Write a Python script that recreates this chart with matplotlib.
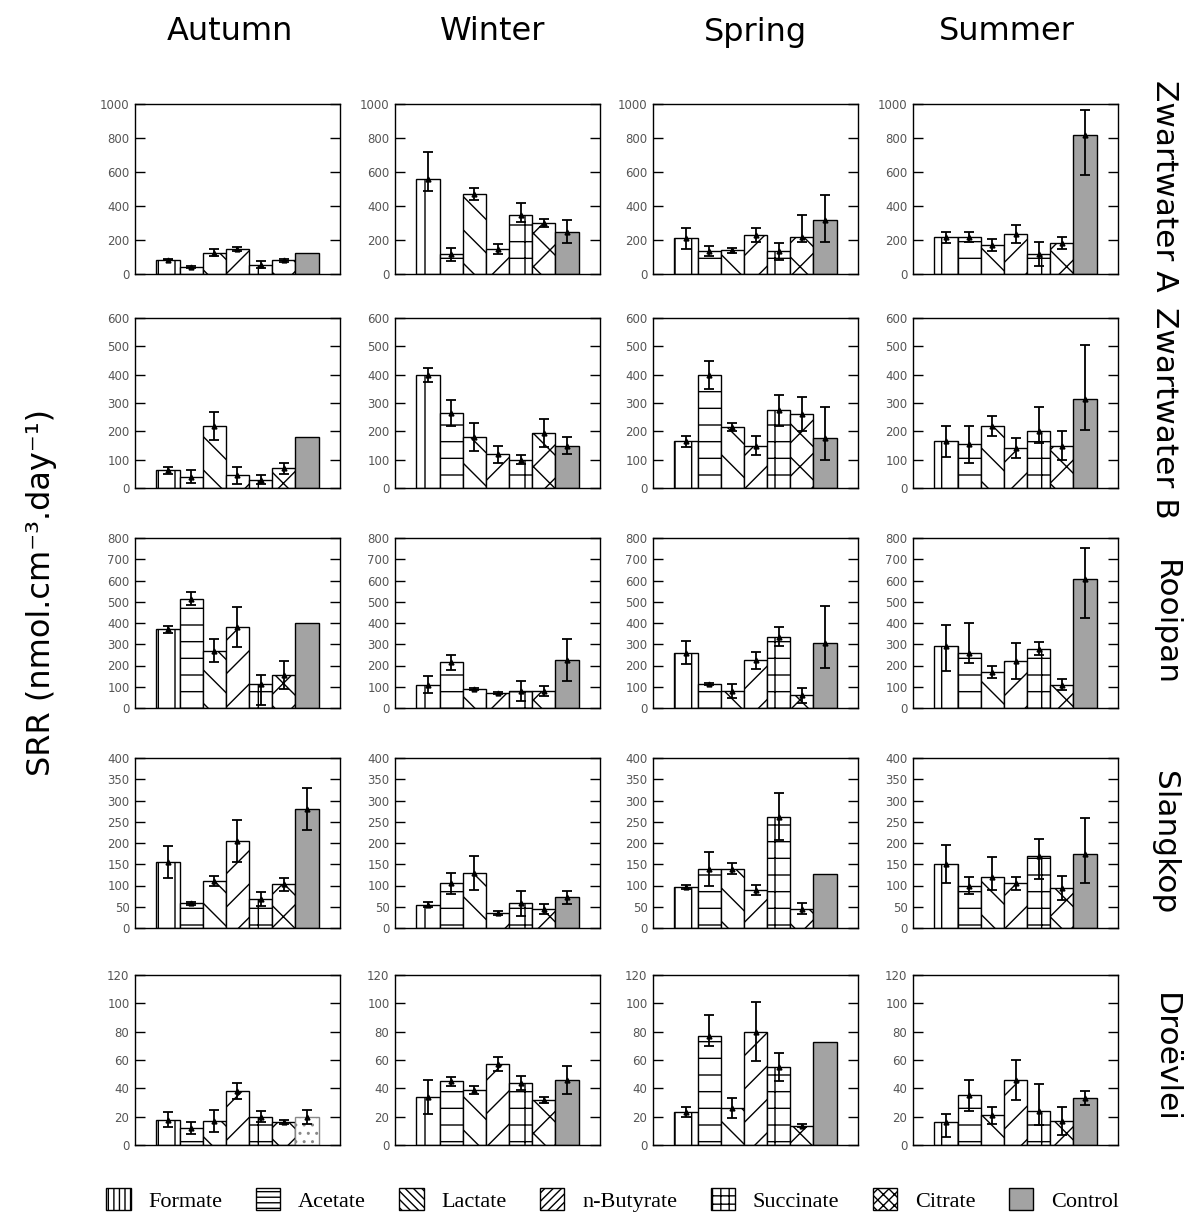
import matplotlib
matplotlib.use("Agg")
import matplotlib.pyplot as plt
from matplotlib.patches import Patch
import numpy as np

plt.rcParams["font.family"] = ["DejaVu Sans"]
plt.rcParams["hatch.linewidth"] = 1.0

seasons = ["Autumn", "Winter", "Spring", "Summer"]
sites = ["Zwartwater A", "Zwartwater B", "Rooipan", "Slangkop", "Droëvlei"]
substrates = ["Formate", "Acetate", "Lactate", "n-Butyrate", "Succinate", "Citrate", "Control"]

# y-axis range and tick step for each site
site_ymax = [1000, 600, 800, 400, 120]
site_ystep = [200, 100, 100, 50, 20]

# SRR means (rows: Autumn, Winter, Spring, Summer; columns: substrates)
zwartwater_a_mean = [[85, 42, 125, 145, 55, 80, 125],
                     [560, 115, 470, 145, 345, 300, 250],
                     [210, 135, 140, 230, 135, 220, 315],
                     [215, 220, 170, 235, 120, 185, 815]]
zwartwater_a_lo = [[5, 5, 20, 12, 20, 10, 0],
                   [70, 40, 35, 30, 40, 25, 70],
                   [60, 30, 15, 40, 50, 30, 125],
                   [35, 30, 35, 55, 70, 35, 235]]
zwartwater_a_hi = [[5, 5, 20, 12, 20, 10, 0],
                   [155, 40, 35, 30, 70, 25, 70],
                   [60, 30, 15, 40, 50, 130, 150],
                   [35, 30, 35, 55, 70, 35, 150]]

zwartwater_b_mean = [[63, 40, 220, 45, 30, 70, 180],
                     [400, 265, 180, 120, 100, 195, 150],
                     [165, 400, 215, 150, 275, 260, 175],
                     [165, 155, 220, 140, 200, 150, 315]]
zwartwater_b_lo = [[12, 22, 50, 30, 15, 20, 0],
                   [25, 45, 50, 30, 15, 50, 30],
                   [20, 50, 15, 35, 55, 60, 75],
                   [55, 65, 35, 35, 40, 50, 110]]
zwartwater_b_hi = [[12, 22, 50, 30, 15, 20, 0],
                   [25, 45, 50, 30, 15, 50, 30],
                   [20, 50, 15, 35, 55, 60, 110],
                   [55, 65, 35, 35, 85, 50, 190]]

rooipan_mean = [[370, 515, 270, 380, 115, 155, 400],
                [110, 215, 90, 70, 80, 80, 225],
                [260, 115, 80, 225, 335, 60, 305],
                [290, 260, 170, 220, 280, 110, 605]]
rooipan_lo = [[15, 30, 55, 95, 100, 65, 0],
              [40, 35, 5, 5, 45, 25, 100],
              [55, 5, 35, 40, 45, 35, 115],
              [115, 50, 30, 85, 30, 25, 180]]
rooipan_hi = [[15, 30, 55, 95, 40, 65, 0],
              [40, 35, 5, 5, 45, 25, 100],
              [55, 5, 35, 40, 45, 35, 175],
              [100, 140, 30, 85, 30, 25, 150]]

slangkop_mean = [[155, 58, 110, 205, 68, 103, 280],
                 [55, 105, 130, 35, 58, 45, 72],
                 [97, 138, 140, 90, 262, 45, 128],
                 [150, 100, 120, 105, 170, 95, 175]]
slangkop_lo = [[38, 3, 12, 50, 17, 15, 50],
               [6, 25, 40, 5, 30, 12, 15],
               [5, 40, 12, 12, 55, 13, 0],
               [45, 20, 30, 15, 55, 28, 70]]
slangkop_hi = [[38, 3, 12, 50, 17, 15, 50],
               [6, 25, 40, 5, 30, 12, 15],
               [5, 40, 12, 12, 55, 13, 0],
               [45, 20, 48, 15, 40, 28, 85]]

droevlei_mean = [[18, 12, 17, 38, 20, 16, 20],
                 [34, 45, 39, 57, 44, 32, 46],
                 [23, 77, 26, 80, 55, 13.5, 73],
                 [16, 35, 21, 46, 24, 17, 33]]
droevlei_lo = [[5.5, 4, 8, 5.5, 4, 1.5, 5],
               [12, 3, 3, 5, 5, 2, 10],
               [3.5, 7, 7, 21, 10, 1, 0],
               [10, 11, 6, 14, 10, 10, 5]]
droevlei_hi = [[5.5, 4, 8, 5.5, 4, 1.5, 5],
               [12, 3, 3, 5, 5, 2, 10],
               [3.5, 15, 7, 21, 10, 1, 0],
               [6, 11, 6, 14, 19, 10, 5]]

site_means = [zwartwater_a_mean, zwartwater_b_mean, rooipan_mean, slangkop_mean, droevlei_mean]
site_lo = [zwartwater_a_lo, zwartwater_b_lo, rooipan_lo, slangkop_lo, droevlei_lo]
site_hi = [zwartwater_a_hi, zwartwater_b_hi, rooipan_hi, slangkop_hi, droevlei_hi]

# bar styling per substrate
bar_hatch = ["|", "-", "\\", "/", "+", "x", None]
legend_hatch = ["|||", "---", "\\\\\\\\", "////", "++", "xxx", None]
bar_face = ["white"] * 6 + ["#a3a3a3"]

W, H = 1201, 1220
fig = plt.figure(figsize=(W / 100, H / 100), dpi=100)

col_left = [135, 395, 653, 913]
row_top = [104, 318, 538, 758, 975]
ax_w, ax_h = 205, 170
title_x = [230, 493, 755, 1007]
site_label_y = [186, 413, 623, 843, 1058]

x = np.arange(len(substrates))
for r in range(len(sites)):
    for c in range(len(seasons)):
        ax = fig.add_axes([col_left[c] / W, 1 - (row_top[r] + ax_h) / H, ax_w / W, ax_h / H])
        mean = np.array(site_means[r][c], dtype=float)
        lo = np.array(site_lo[r][c], dtype=float)
        hi = np.array(site_hi[r][c], dtype=float)
        for i in range(len(substrates)):
            face = bar_face[i]
            hatch = bar_hatch[i]
            edge = "black"
            if i == 6 and r == 4 and c == 0:
                face, hatch, edge = "white", "..", "#888888"
            ax.bar(x[i], mean[i], width=1.0, color=face, hatch=hatch,
                   edgecolor=edge, linewidth=1.0, zorder=2)
        has_err = (lo > 0) | (hi > 0)
        ax.errorbar(x[has_err], mean[has_err], yerr=[lo[has_err], hi[has_err]],
                    fmt="^", ms=3.5, color="black", ecolor="black",
                    elinewidth=1.3, capsize=3.5, capthick=1.3, zorder=3)
        ax.set_xlim(-1.42, 7.42)
        ax.set_ylim(0, site_ymax[r])
        ax.set_yticks(np.arange(0, site_ymax[r] + 1, site_ystep[r]))
        ax.set_xticks([])
        ax.tick_params(axis="y", direction="in", length=7, width=1.0, right=True,
                       labelsize=8.5, labelcolor="#555555", pad=4)
        for s in ax.spines.values():
            s.set_linewidth(1.0)

# column titles
for c, name in enumerate(seasons):
    fig.text(title_x[c] / W, 1 - 32 / H, name, fontsize=23,
             ha="center", va="center")

# site labels on the right
for r, name in enumerate(sites):
    fig.text(1165 / W, 1 - site_label_y[r] / H, name, fontsize=22.5,
             rotation=270, ha="center", va="center")

fig.text(42 / W, 1 - 593 / H, "SRR (nmol.cm⁻³.day⁻¹)", fontsize=23,
         rotation=90, ha="center", va="center")

handles = [Patch(facecolor=bar_face[i], edgecolor="black", hatch=legend_hatch[i], linewidth=1.0)
           for i in range(len(substrates))]
fig.legend(handles, substrates, loc="center", bbox_to_anchor=(0.51, 1 - 1200 / H),
           ncol=7, frameon=False, prop={"family": "Liberation Serif", "size": 16},
           handlelength=1.1, handleheight=1.1, columnspacing=1.5, handletextpad=0.8)

fig.savefig("out.png", dpi=100)
